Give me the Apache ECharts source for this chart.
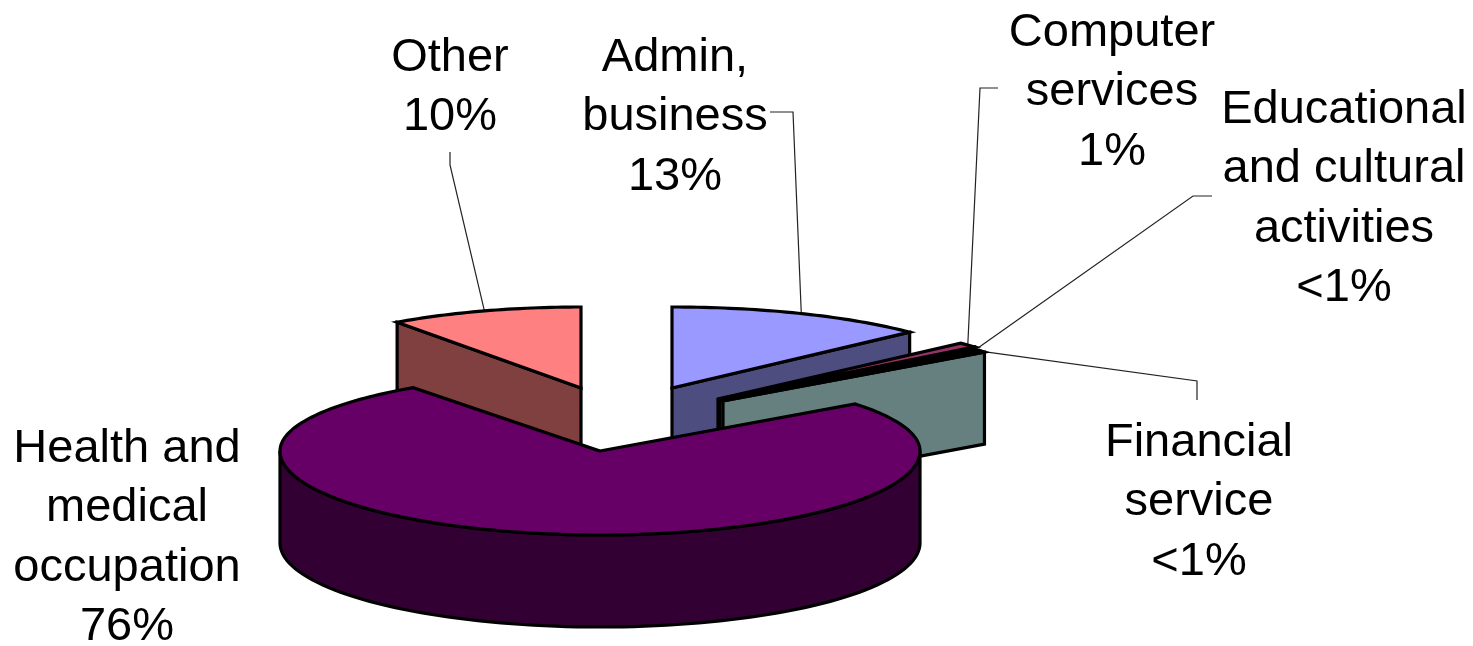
<!DOCTYPE html>
<html>
<head>
<meta charset="utf-8">
<style>html,body{margin:0;padding:0;background:#fff}#c{width:1473px;height:646px}</style>
<script src="https://cdn.jsdelivr.net/npm/echarts@6/dist/echarts.min.js"></script>
</head>
<body>
<div id="c"></div>
<script>
// Data, clockwise from 12 o'clock
var categories = ['Admin,\nbusiness', 'Computer\nservices', 'Educational\nand cultural\nactivities', 'Financial\nservice', 'Health and\nmedical\noccupation', 'Other'];
var shareLabels = ['13%', '1%', '<1%', '<1%', '76%', '10%'];
var values = [13, 1, 0.4, 0.4, 76, 10];

// Colours
var topColors = ['#9999FF', '#993366', '#FFFFCC', '#CCFFFF', '#660066', '#FF8080'];
var sideColors = ['#4D4D80', '#4D1A33', '#808066', '#668080', '#330033', '#804040'];

// Layout: exploded 3D geometry of each slice
var centerX = [672, 718, 720, 723, 600, 581];
var centerY = [388, 399, 401, 401, 451, 388];
var radiusX = [328, 335, 330, 328, 320, 315];
var radiusBack = [81, 81, 81, 81, 78, 81];
var radiusFront = [81, 81, 81, 81, 84, 81];
var depth = 92;
var drawOrder = [2, 3, 4, 5, 6, 1];
var labelX = [675, 1112, 1344, 1199, 127, 450];
var labelY = [58, 33, 110, 443, 449, 58];
var leaderElbows = [
  [[770, 112], [793, 112]],
  [[998, 88], [980, 88]],
  [[1212, 196], [1193, 196]],
  [[1197, 400], [1197, 381]],
  [],
  [[450, 152], [450, 165]]
];
var lineHeight = 59.5;
var fontSize = 47;

var total = values.reduce(function (a, b) { return a + b; }, 0);
function sweep(i) { return values[i] / total * Math.PI * 2; }
function startAngle(i) {
  var s = 0;
  for (var k = 0; k < i; k++) s += sweep(k);
  return s;
}
function rim(i, a, down) {
  var c = Math.cos(a);
  return [
    centerX[i] + radiusX[i] * Math.sin(a),
    centerY[i] - (c > 0 ? radiusBack[i] : radiusFront[i]) * c + (down || 0)
  ];
}
var edge = { stroke: '#000', lineWidth: 3.2, lineJoin: 'miter' };
function poly(points, fill, z2) {
  return { type: 'polygon', z2: z2, shape: { points: points }, style: Object.assign({ fill: fill }, edge) };
}
function wall(i, a, z2) {
  var apex = [centerX[i], centerY[i]];
  var out = rim(i, a);
  return poly([apex, out, [out[0], out[1] + depth], [apex[0], apex[1] + depth]], sideColors[i], z2);
}

function renderSlice(params, api) {
  var i = api.value(0);
  var a0 = startAngle(i), a1 = a0 + sweep(i);
  var base = drawOrder[i] * 10;
  var children = [];

  // Leader line from the label to the middle of the slice's rim
  if (leaderElbows[i].length) {
    children.push({
      type: 'polyline', z2: 1,
      shape: { points: leaderElbows[i].concat([rim(i, (a0 + a1) / 2)]) },
      style: { stroke: '#222', lineWidth: 1.2, fill: null }
    });
  }
  // Cut faces that look toward the viewer
  if (Math.sin(a0) < 0) children.push(wall(i, a0, base));
  if (Math.sin(a1) > 0) children.push(wall(i, a1, base));
  // Front part of the outer wall
  var f0 = Math.max(a0, Math.PI / 2), f1 = Math.min(a1, Math.PI * 1.5);
  if (f1 > f0) {
    var upper = [], lower = [], n = 90;
    for (var k = 0; k <= n; k++) {
      var a = f0 + (f1 - f0) * k / n;
      upper.push(rim(i, a));
      lower.unshift(rim(i, a, depth));
    }
    children.push(poly(upper.concat(lower), sideColors[i], base + 1));
  }
  // Top face
  var top = [[centerX[i], centerY[i]]], steps = Math.max(4, Math.ceil((a1 - a0) / 0.02));
  for (var t = 0; t <= steps; t++) top.push(rim(i, a0 + (a1 - a0) * t / steps));
  children.push(poly(top, topColors[i], base + 2));
  // Label
  children.push({
    type: 'text', z2: 200,
    x: labelX[i], y: labelY[i] - lineHeight / 2,
    style: {
      text: categories[i] + '\n' + shareLabels[i],
      fill: '#000', align: 'center', verticalAlign: 'top',
      font: fontSize + 'px "Liberation Sans", Arial, sans-serif',
      lineHeight: lineHeight
    }
  });
  return { type: 'group', children: children };
}

var chart = echarts.init(document.getElementById('c'), null, { renderer: 'canvas' });
chart.setOption({
  animation: false,
  backgroundColor: '#fff',
  series: [{
    type: 'custom',
    coordinateSystem: 'none',
    silent: true,
    renderItem: renderSlice,
    encode: { value: 1 },
    data: values.map(function (v, i) { return [i, v]; })
  }]
});
</script>
</body>
</html>
